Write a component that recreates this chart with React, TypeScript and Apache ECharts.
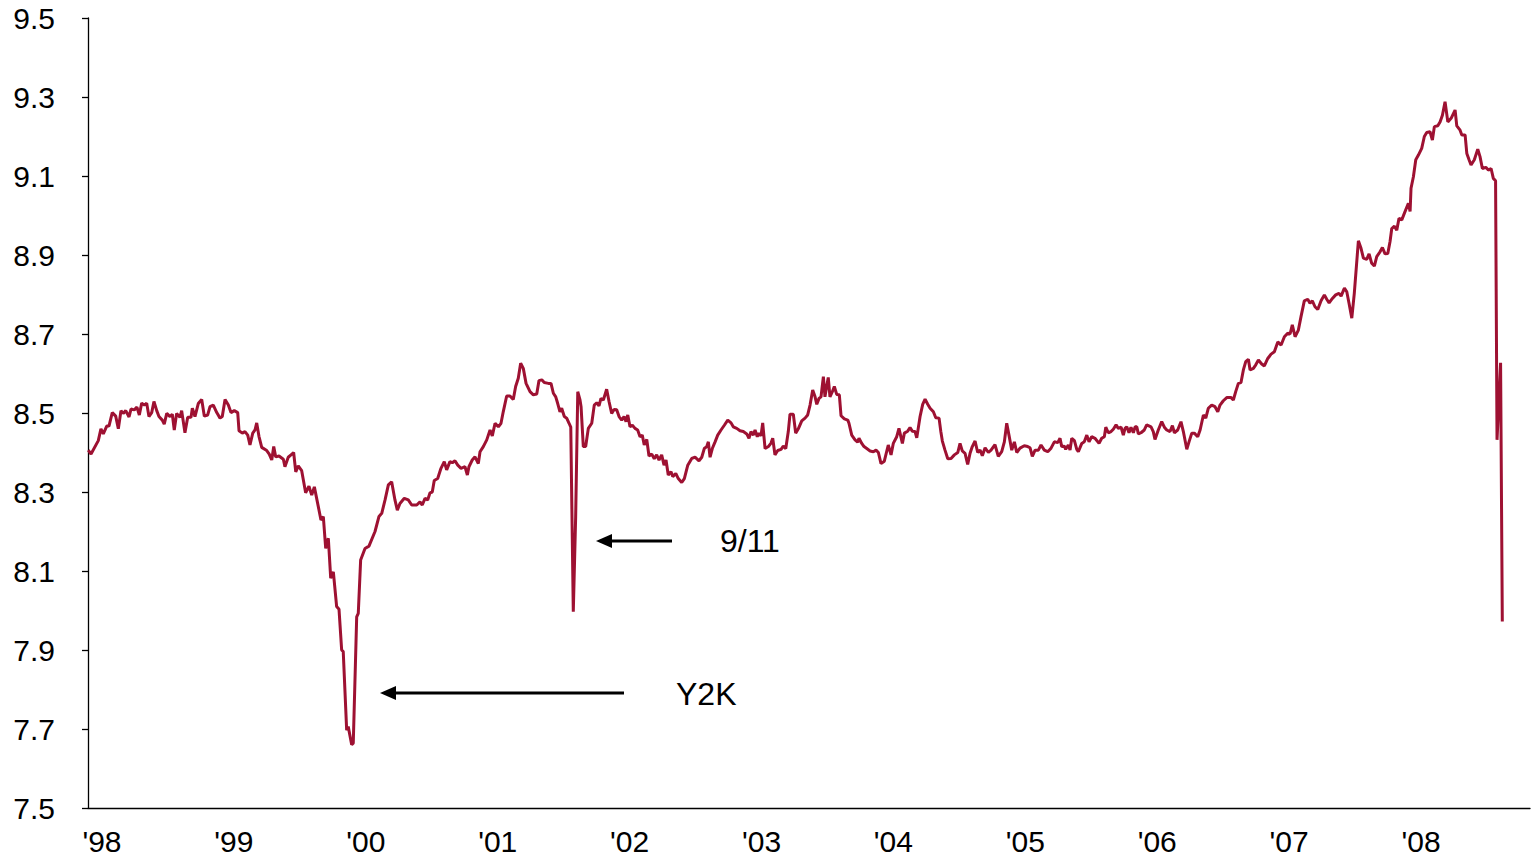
import React, { useEffect, useRef } from "react";
import * as echarts from "echarts";

// decimal years (label '98 centred on 1998.0)
const dates: number[] = [
  1997.896, 1997.917, 1997.972, 1997.992, 1998.010, 1998.036, 1998.053, 1998.078, 1998.104, 1998.124,
  1998.144, 1998.161, 1998.180, 1998.205, 1998.220, 1998.245, 1998.265, 1998.283, 1998.301, 1998.321,
  1998.339, 1998.356, 1998.377, 1998.394, 1998.415, 1998.432, 1998.457, 1998.472, 1998.491, 1998.516,
  1998.533, 1998.548, 1998.566, 1998.591, 1998.604, 1998.629, 1998.650, 1998.675, 1998.685, 1998.705,
  1998.730, 1998.756, 1998.776, 1998.801, 1998.819, 1998.844, 1998.870, 1998.895, 1998.912, 1998.933,
  1998.958, 1998.978, 1999.003, 1999.029, 1999.039, 1999.064, 1999.084, 1999.105, 1999.122, 1999.143,
  1999.160, 1999.173, 1999.190, 1999.211, 1999.249, 1999.268, 1999.287, 1999.302, 1999.317, 1999.342,
  1999.375, 1999.387, 1999.412, 1999.433, 1999.453, 1999.469, 1999.488, 1999.514, 1999.544, 1999.569,
  1999.590, 1999.610, 1999.640, 1999.660, 1999.678, 1999.696, 1999.716, 1999.734, 1999.754, 1999.779,
  1999.797, 1999.817, 1999.829, 1999.855, 1999.867, 1999.893, 1999.905, 1999.931, 1999.943, 1999.961,
  1999.994, 2000.024, 2000.070, 2000.100, 2000.121, 2000.146, 2000.171, 2000.196, 2000.221, 2000.239,
  2000.259, 2000.292, 2000.322, 2000.348, 2000.386, 2000.411, 2000.428, 2000.449, 2000.469, 2000.487,
  2000.504, 2000.519, 2000.545, 2000.570, 2000.595, 2000.613, 2000.638, 2000.656, 2000.676, 2000.697,
  2000.722, 2000.752, 2000.770, 2000.782, 2000.807, 2000.828, 2000.853, 2000.866, 2000.891, 2000.917,
  2000.942, 2000.959, 2000.980, 2001.005, 2001.025, 2001.042, 2001.068, 2001.093, 2001.118, 2001.136,
  2001.156, 2001.174, 2001.194, 2001.215, 2001.245, 2001.270, 2001.296, 2001.313, 2001.334, 2001.353,
  2001.384, 2001.404, 2001.422, 2001.440, 2001.455, 2001.472, 2001.485, 2001.505, 2001.523, 2001.541,
  2001.554, 2001.573, 2001.591, 2001.607, 2001.624, 2001.632, 2001.649, 2001.667, 2001.687, 2001.713,
  2001.732, 2001.751, 2001.768, 2001.783, 2001.801, 2001.826, 2001.844, 2001.864, 2001.882, 2001.902,
  2001.920, 2001.940, 2001.958, 2001.973, 2001.986, 2002.003, 2002.021, 2002.041, 2002.061, 2002.079,
  2002.096, 2002.111, 2002.130, 2002.147, 2002.168, 2002.187, 2002.205, 2002.223, 2002.243, 2002.261,
  2002.276, 2002.293, 2002.314, 2002.327, 2002.350, 2002.369, 2002.395, 2002.415, 2002.441, 2002.471,
  2002.496, 2002.526, 2002.547, 2002.566, 2002.585, 2002.597, 2002.610, 2002.627, 2002.648, 2002.668,
  2002.693, 2002.718, 2002.744, 2002.769, 2002.786, 2002.812, 2002.837, 2002.862, 2002.888, 2002.905,
  2002.920, 2002.938, 2002.951, 2002.968, 2002.981, 2002.996, 2003.009, 2003.027, 2003.052, 2003.072,
  2003.085, 2003.102, 2003.123, 2003.148, 2003.165, 2003.184, 2003.203, 2003.216, 2003.241, 2003.259,
  2003.279, 2003.305, 2003.330, 2003.350, 2003.368, 2003.388, 2003.406, 2003.419, 2003.436, 2003.451,
  2003.469, 2003.481, 2003.494, 2003.506, 2003.519, 2003.537, 2003.552, 2003.570, 2003.590, 2003.603,
  2003.628, 2003.654, 2003.663, 2003.684, 2003.709, 2003.729, 2003.739, 2003.760, 2003.777, 2003.798,
  2003.823, 2003.848, 2003.868, 2003.886, 2003.906, 2003.931, 2003.961, 2003.982, 2003.999, 2004.025,
  2004.042, 2004.068, 2004.083, 2004.108, 2004.126, 2004.143, 2004.164, 2004.177, 2004.202, 2004.222,
  2004.240, 2004.260, 2004.278, 2004.303, 2004.321, 2004.346, 2004.359, 2004.371, 2004.391, 2004.412,
  2004.437, 2004.462, 2004.488, 2004.505, 2004.522, 2004.543, 2004.563, 2004.581, 2004.598, 2004.619,
  2004.639, 2004.657, 2004.674, 2004.695, 2004.720, 2004.740, 2004.770, 2004.795, 2004.821, 2004.841,
  2004.859, 2004.876, 2004.897, 2004.917, 2004.935, 2004.960, 2004.992, 2005.018, 2005.036, 2005.053,
  2005.074, 2005.099, 2005.119, 2005.144, 2005.170, 2005.195, 2005.220, 2005.246, 2005.263, 2005.276,
  2005.296, 2005.306, 2005.326, 2005.339, 2005.352, 2005.372, 2005.390, 2005.402, 2005.428, 2005.447,
  2005.466, 2005.483, 2005.503, 2005.528, 2005.559, 2005.579, 2005.599, 2005.610, 2005.629, 2005.650,
  2005.667, 2005.688, 2005.705, 2005.726, 2005.743, 2005.756, 2005.769, 2005.786, 2005.801, 2005.819,
  2005.832, 2005.845, 2005.857, 2005.877, 2005.902, 2005.920, 2005.953, 2005.970, 2005.983, 2006.008,
  2006.034, 2006.054, 2006.072, 2006.097, 2006.115, 2006.130, 2006.155, 2006.180, 2006.198, 2006.224,
  2006.241, 2006.262, 2006.281, 2006.307, 2006.325, 2006.350, 2006.368, 2006.387, 2006.413, 2006.438,
  2006.459, 2006.476, 2006.501, 2006.527, 2006.560, 2006.577, 2006.595, 2006.615, 2006.635, 2006.653,
  2006.671, 2006.691, 2006.704, 2006.729, 2006.747, 2006.767, 2006.792, 2006.812, 2006.838, 2006.863,
  2006.888, 2006.914, 2006.939, 2006.964, 2006.989, 2007.007, 2007.024, 2007.045, 2007.070, 2007.090,
  2007.115, 2007.141, 2007.158, 2007.176, 2007.196, 2007.217, 2007.242, 2007.267, 2007.285, 2007.303,
  2007.328, 2007.353, 2007.378, 2007.394, 2007.419, 2007.437, 2007.454, 2007.475, 2007.494, 2007.525,
  2007.545, 2007.563, 2007.588, 2007.606, 2007.626, 2007.646, 2007.664, 2007.689, 2007.707, 2007.727,
  2007.748, 2007.765, 2007.778, 2007.798, 2007.816, 2007.833, 2007.854, 2007.874, 2007.904, 2007.917,
  2007.924, 2007.942, 2007.960, 2007.980, 2008.005, 2008.025, 2008.043, 2008.068, 2008.086, 2008.101,
  2008.127, 2008.144, 2008.162, 2008.182, 2008.203, 2008.228, 2008.258, 2008.271, 2008.296, 2008.309,
  2008.334, 2008.347, 2008.364, 2008.379, 2008.404, 2008.430, 2008.447, 2008.465, 2008.491, 2008.510,
  2008.531, 2008.548, 2008.565, 2008.576, 2008.603, 2008.616,
];

const rates: number[] = [
  8.406, 8.396, 8.430, 8.460, 8.447, 8.467, 8.467, 8.501, 8.492, 8.460,
  8.506, 8.499, 8.506, 8.490, 8.510, 8.508, 8.515, 8.495, 8.525, 8.520,
  8.525, 8.491, 8.501, 8.529, 8.506, 8.491, 8.482, 8.472, 8.499, 8.491,
  8.497, 8.457, 8.499, 8.489, 8.506, 8.450, 8.489, 8.489, 8.512, 8.491,
  8.524, 8.534, 8.492, 8.495, 8.516, 8.520, 8.501, 8.487, 8.491, 8.534,
  8.520, 8.501, 8.506, 8.501, 8.455, 8.449, 8.453, 8.444, 8.419, 8.449,
  8.457, 8.475, 8.441, 8.413, 8.405, 8.396, 8.381, 8.415, 8.389, 8.391,
  8.383, 8.364, 8.388, 8.394, 8.400, 8.351, 8.366, 8.354, 8.298, 8.315,
  8.292, 8.313, 8.263, 8.229, 8.238, 8.157, 8.183, 8.082, 8.098, 8.010,
  8.003, 7.900, 7.896, 7.697, 7.706, 7.660, 7.664, 7.984, 7.993, 8.128,
  8.157, 8.163, 8.200, 8.238, 8.246, 8.280, 8.318, 8.326, 8.280, 8.254,
  8.271, 8.284, 8.280, 8.267, 8.267, 8.275, 8.267, 8.284, 8.280, 8.298,
  8.300, 8.329, 8.334, 8.360, 8.377, 8.356, 8.377, 8.374, 8.379, 8.368,
  8.360, 8.364, 8.343, 8.364, 8.381, 8.389, 8.372, 8.402, 8.415, 8.432,
  8.457, 8.442, 8.474, 8.465, 8.474, 8.503, 8.543, 8.543, 8.534, 8.567,
  8.588, 8.626, 8.613, 8.575, 8.554, 8.546, 8.548, 8.582, 8.584, 8.577,
  8.575, 8.575, 8.550, 8.541, 8.524, 8.503, 8.512, 8.491, 8.487, 8.474,
  8.464, 7.997, 8.237, 8.554, 8.533, 8.516, 8.415, 8.415, 8.461, 8.474,
  8.520, 8.526, 8.518, 8.537, 8.533, 8.560, 8.529, 8.499, 8.509, 8.508,
  8.491, 8.482, 8.491, 8.478, 8.495, 8.465, 8.469, 8.461, 8.457, 8.440,
  8.444, 8.419, 8.433, 8.391, 8.396, 8.384, 8.394, 8.381, 8.394, 8.368,
  8.381, 8.343, 8.351, 8.339, 8.347, 8.334, 8.324, 8.334, 8.368, 8.385,
  8.388, 8.379, 8.388, 8.410, 8.415, 8.427, 8.388, 8.410, 8.427, 8.444,
  8.457, 8.469, 8.482, 8.475, 8.465, 8.461, 8.455, 8.453, 8.447, 8.436,
  8.453, 8.444, 8.457, 8.440, 8.449, 8.442, 8.475, 8.410, 8.415, 8.424,
  8.436, 8.394, 8.405, 8.408, 8.416, 8.410, 8.453, 8.497, 8.497, 8.449,
  8.460, 8.480, 8.487, 8.495, 8.520, 8.558, 8.541, 8.522, 8.537, 8.541,
  8.592, 8.541, 8.567, 8.590, 8.541, 8.554, 8.567, 8.547, 8.546, 8.493,
  8.485, 8.482, 8.474, 8.444, 8.432, 8.426, 8.436, 8.423, 8.415, 8.410,
  8.404, 8.402, 8.406, 8.400, 8.372, 8.378, 8.419, 8.394, 8.423, 8.440,
  8.461, 8.423, 8.449, 8.454, 8.463, 8.454, 8.453, 8.437, 8.491, 8.522,
  8.535, 8.522, 8.512, 8.503, 8.488, 8.487, 8.454, 8.429, 8.406, 8.384,
  8.385, 8.394, 8.400, 8.423, 8.404, 8.398, 8.370, 8.398, 8.415, 8.429,
  8.400, 8.406, 8.392, 8.412, 8.400, 8.406, 8.420, 8.390, 8.402, 8.427,
  8.474, 8.444, 8.406, 8.427, 8.400, 8.411, 8.417, 8.415, 8.412, 8.390,
  8.406, 8.406, 8.419, 8.406, 8.402, 8.411, 8.427, 8.425, 8.436, 8.415,
  8.416, 8.408, 8.419, 8.406, 8.436, 8.430, 8.408, 8.402, 8.423, 8.427,
  8.444, 8.427, 8.440, 8.436, 8.423, 8.436, 8.440, 8.464, 8.450, 8.453,
  8.459, 8.470, 8.461, 8.464, 8.444, 8.461, 8.465, 8.450, 8.464, 8.450,
  8.465, 8.465, 8.447, 8.450, 8.457, 8.470, 8.465, 8.453, 8.433, 8.457,
  8.478, 8.464, 8.457, 8.453, 8.468, 8.450, 8.457, 8.478, 8.453, 8.408,
  8.427, 8.449, 8.449, 8.440, 8.457, 8.495, 8.487, 8.512, 8.520, 8.516,
  8.503, 8.520, 8.531, 8.539, 8.539, 8.533, 8.554, 8.575, 8.577, 8.609,
  8.630, 8.636, 8.609, 8.613, 8.622, 8.634, 8.624, 8.619, 8.638, 8.649,
  8.655, 8.680, 8.672, 8.693, 8.702, 8.700, 8.723, 8.693, 8.710, 8.744,
  8.784, 8.788, 8.778, 8.784, 8.769, 8.762, 8.784, 8.799, 8.788, 8.779,
  8.790, 8.799, 8.803, 8.796, 8.816, 8.807, 8.778, 8.740, 8.803, 8.936,
  8.917, 8.892, 8.889, 8.903, 8.879, 8.872, 8.896, 8.908, 8.919, 8.903,
  8.904, 8.934, 8.967, 8.973, 8.963, 8.993, 8.989, 9.006, 9.031, 9.010,
  9.069, 9.098, 9.141, 9.153, 9.170, 9.200, 9.210, 9.212, 9.191, 9.225,
  9.227, 9.237, 9.254, 9.288, 9.237, 9.246, 9.267, 9.227, 9.216, 9.204,
  9.204, 9.157, 9.141, 9.128, 9.141, 9.168, 9.149, 9.119, 9.122, 9.115,
  9.119, 9.094, 9.088, 8.432, 8.627, 7.972,
];

const yearTicks: number[] = [1998, 1999, 2000, 2001, 2002, 2003, 2004, 2005, 2006, 2007, 2008];

const FONT = "'Liberation Sans', Arial, Helvetica, sans-serif";
const LINE_COLOR = "#9E1132";

export default function App() {
  const ref = useRef<HTMLDivElement>(null);

  useEffect(() => {
    if (!ref.current) return;
    const chart = echarts.init(ref.current, undefined, { renderer: "svg" });
    const seriesData = dates.map((d, i) => [d, rates[i]]);

    const arrow = (tipX: number, endX: number, y: number) => [
      {
        type: "line",
        shape: { x1: tipX + 14, y1: y, x2: endX, y2: y },
        style: { stroke: "#000", lineWidth: 3 },
      },
      {
        type: "polygon",
        shape: { points: [[tipX, y], [tipX + 16, y - 7], [tipX + 16, y + 7]] },
        style: { fill: "#000" },
      },
    ];

    chart.setOption({
      animation: false,
      backgroundColor: "#fff",
      grid: { left: 88, right: 3, top: 18, bottom: 49, containLabel: false },
      xAxis: {
        type: "value",
        min: 1997.894,
        max: 2008.826,
        axisLine: { show: true, lineStyle: { color: "#000", width: 1.3 } },
        axisTick: { show: false },
        splitLine: { show: false },
        axisLabel: {
          customValues: yearTicks,
          formatter: (v: number) => "'" + String(Math.round(v)).slice(2),
          color: "#000",
          fontSize: 30,
          fontFamily: FONT,
          margin: 18,
        },
      },
      yAxis: {
        type: "value",
        min: 7.5,
        max: 9.5,
        interval: 0.2,
        axisLine: { show: true, lineStyle: { color: "#000", width: 1.3 } },
        axisTick: { show: true, inside: false, length: 6, lineStyle: { color: "#000", width: 1.3 } },
        splitLine: { show: false },
        axisLabel: {
          formatter: (v: number) => v.toFixed(1),
          color: "#000",
          fontSize: 30,
          fontFamily: FONT,
          margin: 33,
        },
      },
      series: [
        {
          type: "line",
          data: seriesData,
          showSymbol: false,
          symbol: "none",
          lineStyle: { color: LINE_COLOR, width: 3 },
          itemStyle: { color: LINE_COLOR },
          silent: true,
        },
      ],
      graphic: [
        ...arrow(380, 624, 693),
        ...arrow(596, 672, 541),
        {
          type: "text",
          left: 676,
          top: 678,
          style: { text: "Y2K", font: `32px ${FONT}`, fill: "#000" },
        },
        {
          type: "text",
          left: 720,
          top: 525,
          style: { text: "9/11", font: `32px ${FONT}`, fill: "#000" },
        },
      ],
    });
    return () => chart.dispose();
  }, []);

  return (
    <div
      ref={ref}
      style={{ position: "absolute", left: 0, top: 0, width: 1533, height: 857, background: "#fff" }}
    />
  );
}
